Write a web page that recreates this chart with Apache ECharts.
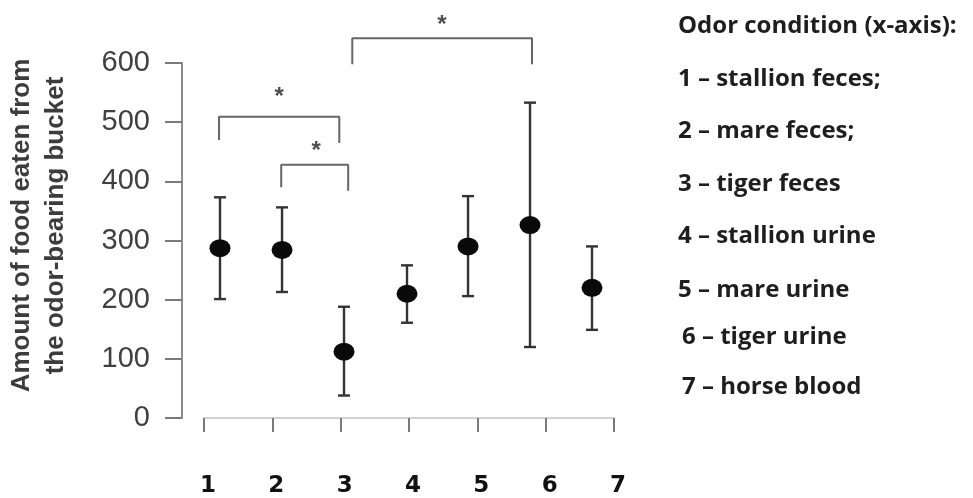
<!DOCTYPE html>
<html>
<head>
<meta charset="utf-8">
<style>
  html, body { margin: 0; padding: 0; background: #ffffff; }
  #chart { width: 973px; height: 498px; }
</style>
<script src="https://cdn.jsdelivr.net/npm/echarts@6/dist/echarts.min.js"></script>
</head>
<body>
<div id="chart"></div>
<script>
// ---- data ----
const categories = ['1', '2', '3', '4', '5', '6', '7'];
const conditionNames = ['stallion feces;', 'mare feces;', 'tiger feces', 'stallion urine', 'mare urine', 'tiger urine', 'horse blood'];
const legendTitle = 'Odor condition (x-axis):';
const yAxisTitle = 'Amount of food eaten from\nthe odor-bearing bucket';
// horizontal positions of the plotted points, in x-axis units (points are drawn offset from the ticks)
const pointPos = [1.234, 2.142, 3.049, 3.971, 4.864, 5.771, 6.678];
const meanValues = [287, 284, 112, 210, 290, 326, 220];
const upperValues = [373, 356, 188, 258, 375, 533, 290];
const lowerValues = [201, 213, 38, 161, 206, 120, 149];
// significance brackets
const bracketLeftX = [1.22, 2.13, 3.17];
const bracketRightX = [2.98, 3.11, 5.80];
const bracketTopY = [509, 428, 642];
const bracketLeftFootY = [470, 390, 598];
const bracketRightFootY = [465, 384, 598];
const starX = [2.10, 2.64, 4.48];
const starY = [550, 459, 672];
const starText = ['*', '*', '*'];

// ---- build ----
const chart = echarts.init(document.getElementById('chart'), null, { renderer: 'canvas' });

const errorData = pointPos.map((x, i) => [x, lowerValues[i], upperValues[i]]);
const pointData = pointPos.map((x, i) => [x, meanValues[i]]);

const bracketSeries = bracketLeftX.map((lx, i) => ({
  type: 'line',
  clip: false,
  silent: true,
  symbol: 'none',
  z: 1,
  lineStyle: { color: '#666666', width: 2 },
  data: [
    [lx, bracketLeftFootY[i]],
    [lx, bracketTopY[i]],
    [bracketRightX[i], bracketTopY[i]],
    [bracketRightX[i], bracketRightFootY[i]]
  ]
}));

const legendFont = 'bold 24px "Open Sans"';
const legendGraphics = [{
  type: 'text',
  left: 678,
  top: 14,
  style: { text: legendTitle, font: legendFont, fill: '#1e1e1e' }
}];
const legendY = [80, 132, 185, 237, 291, 338, 388];
const legendX = [678, 678, 678, 678, 678, 682, 682];
conditionNames.forEach((name, i) => {
  legendGraphics.push({
    type: 'text',
    left: legendX[i],
    top: legendY[i] - 13,
    style: { text: categories[i] + ' \u2013 ' + name, font: legendFont, fill: '#1e1e1e' }
  });
});

const option = {
  animation: false,
  backgroundColor: '#ffffff',
  grid: { left: 204, right: 359, top: 63, bottom: 79, containLabel: false },
  xAxis: {
    type: 'value',
    min: 1,
    max: 7,
    interval: 1,
    offset: 28,
    axisLine: { show: true, lineStyle: { color: '#c4c4c4', width: 1.5 } },
    axisTick: { show: true, length: 14, lineStyle: { color: '#7a7a7a', width: 2 } },
    axisLabel: {
      margin: 29,
      fontFamily: 'DejaVu Sans',
      fontWeight: 'bold',
      fontSize: 23,
      color: '#111111',
      padding: [0, 0, 0, 8],
      formatter: v => categories[Math.round(v) - 1] || ''
    },
    splitLine: { show: false }
  },
  yAxis: {
    type: 'value',
    min: 0,
    max: 600,
    interval: 100,
    offset: 22,
    name: yAxisTitle,
    nameLocation: 'middle',
    nameRotate: 90,
    nameGap: 109,
    nameTextStyle: {
      fontFamily: 'Liberation Sans',
      fontWeight: 'bold',
      fontSize: 26,
      lineHeight: 34,
      color: '#3c3c3c',
      padding: [0, 0, 0, 30]
    },
    axisLine: { show: true, lineStyle: { color: '#8c8c8c', width: 2 } },
    axisTick: { show: true, length: 17, lineStyle: { color: '#7a7a7a', width: 2 } },
    axisLabel: {
      margin: 32,
      fontFamily: 'Liberation Sans',
      fontSize: 29,
      color: '#404040'
    },
    splitLine: { show: false }
  },
  graphic: legendGraphics,
  series: [
    ...bracketSeries,
    {
      type: 'scatter',
      clip: false,
      silent: true,
      symbolSize: 1,
      itemStyle: { color: 'rgba(0,0,0,0)' },
      label: {
        show: true,
        position: 'inside',
        formatter: p => starText[p.dataIndex],
        fontFamily: 'Liberation Sans',
        fontWeight: 'bold',
        fontSize: 24,
        color: '#222222',
        offset: [0, 5]
      },
      data: starX.map((x, i) => [x, starY[i]])
    },
    {
      type: 'custom',
      clip: false,
      silent: true,
      z: 3,
      renderItem: (params, api) => {
        const x = api.value(0);
        const lo = api.coord([x, api.value(1)]);
        const hi = api.coord([x, api.value(2)]);
        const half = 6;
        const style = { stroke: '#333333', lineWidth: 2.4 };
        return {
          type: 'group',
          children: [
            { type: 'line', shape: { x1: hi[0], y1: hi[1], x2: lo[0], y2: lo[1] }, style },
            { type: 'line', shape: { x1: hi[0] - half, y1: hi[1], x2: hi[0] + half, y2: hi[1] }, style },
            { type: 'line', shape: { x1: lo[0] - half, y1: lo[1], x2: lo[0] + half, y2: lo[1] }, style }
          ]
        };
      },
      encode: { x: 0, y: [1, 2] },
      data: errorData
    },
    {
      type: 'scatter',
      z: 4,
      silent: true,
      symbol: 'circle',
      symbolSize: [21, 18],
      itemStyle: { color: '#0a0a0a', opacity: 1 },
      data: pointData
    }
  ]
};

chart.setOption(option);
</script>
</body>
</html>
